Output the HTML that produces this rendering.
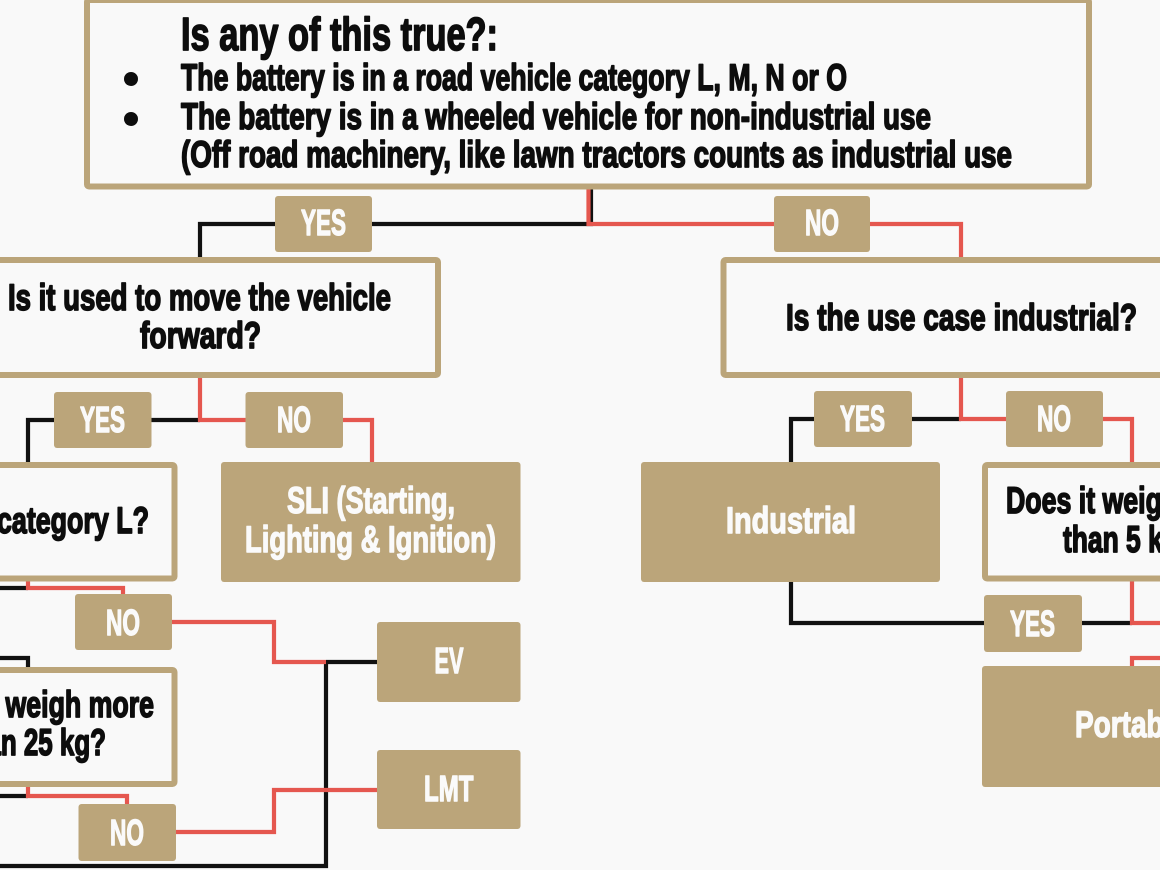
<!DOCTYPE html>
<html><head><meta charset="utf-8"><style>
html,body{margin:0;padding:0;background:#f9f9f9;}
svg{display:block;}
.t{font-family:"Liberation Sans",sans-serif;font-weight:bold;fill:#0d0d0d;stroke:#0d0d0d;stroke-width:1.7;stroke-linejoin:round;}
.w{font-family:"Liberation Sans",sans-serif;font-weight:bold;fill:#fafafa;stroke:#fafafa;stroke-width:1.4;stroke-linejoin:round;}
</style></head><body>
<svg width="1160" height="870" viewBox="0 0 1160 870" xmlns="http://www.w3.org/2000/svg">
<rect x="0" y="0" width="1160" height="870" fill="#f9f9f9"/>
<g fill="none" stroke-width="4.2" stroke-linejoin="miter" stroke-linecap="butt">
<g stroke="#111">
<path d="M591,187 V224 H372"/>
<path d="M275,224 H200 V262"/>
<path d="M200,420 H151"/>
<path d="M54,420 H28 V464"/>
<path d="M0,588 H28"/>
<path d="M326,662 H377"/>
<path d="M326,660 V866 H0"/>
<path d="M0,658 H28 V669"/>
<path d="M0,796 H28"/>
<path d="M961,419 H912"/>
<path d="M814,419 H791 V464"/>
<path d="M791,582 V623 H985"/>
<path d="M1082,623 H1132"/>
</g>
<g stroke="#e5574f">
<path d="M588.5,187 V224 H774"/>
<path d="M870,224 H961 V262"/>
<path d="M200,377 V420 H246"/>
<path d="M343,420 H372 V464"/>
<path d="M28,580 V588 H123 V596"/>
<path d="M172,622 H274 V662 H326"/>
<path d="M28,783 V796 H127 V806"/>
<path d="M176,832 H274 V790 H377"/>
<path d="M961,377 V419 H1006"/>
<path d="M1103,419 H1132 V464"/>
<path d="M1132,580 V623 H1160"/>
<path d="M1160,658 H1132 V668"/>
</g>
</g>
<g fill="#f9f9f9" stroke="#bba57a" stroke-width="6">
<rect x="87" y="0" width="1002" height="186.5" rx="2"/>
<rect x="-20" y="260" width="458" height="115" rx="2"/>
<rect x="723.5" y="260" width="460" height="115" rx="2"/>
<rect x="-20" y="465" width="194.5" height="113.5" rx="2"/>
<rect x="-20" y="670" width="194.5" height="114" rx="2"/>
<rect x="985" y="465" width="200" height="113.5" rx="2"/>
</g>
<g fill="#bba57a">
<rect x="275" y="196" width="97" height="56" rx="3"/>
<rect x="774" y="196" width="96" height="56" rx="3"/>
<rect x="54" y="392" width="97.5" height="56" rx="3"/>
<rect x="245.5" y="392" width="97.5" height="56" rx="3"/>
<rect x="814" y="391" width="98" height="56" rx="3"/>
<rect x="1006" y="391" width="97" height="56" rx="3"/>
<rect x="75" y="594" width="97" height="56" rx="3"/>
<rect x="78.5" y="804" width="97.5" height="57" rx="3"/>
<rect x="984" y="595" width="98" height="57" rx="3"/>
<rect x="221" y="462" width="299.5" height="120" rx="3"/>
<rect x="641" y="462" width="299" height="120" rx="3"/>
<rect x="377" y="622" width="143.5" height="80" rx="3"/>
<rect x="377" y="750" width="143.5" height="79" rx="3"/>
<rect x="982" y="666" width="300" height="121" rx="3"/>
</g>
<text class="t" x="181" y="50" font-size="46" textLength="317" lengthAdjust="spacingAndGlyphs">Is any of this true?:</text>
<circle cx="131" cy="79" r="7" fill="#0d0d0d"/>
<circle cx="131" cy="119" r="7" fill="#0d0d0d"/>
<text class="t" x="181" y="90" font-size="37" textLength="666" lengthAdjust="spacingAndGlyphs">The battery is in a road vehicle category L, M, N or O</text>
<text class="t" x="181" y="129" font-size="37" textLength="750" lengthAdjust="spacingAndGlyphs">The battery is in a wheeled vehicle for non-industrial use</text>
<text class="t" x="181" y="167" font-size="37" textLength="831" lengthAdjust="spacingAndGlyphs">(Off road machinery, like lawn tractors counts as industrial use</text>
<text class="t" x="8" y="310" font-size="37" textLength="383" lengthAdjust="spacingAndGlyphs">Is it used to move the vehicle</text>
<text class="t" x="140" y="348" font-size="37" textLength="121" lengthAdjust="spacingAndGlyphs">forward?</text>
<text class="t" x="786" y="330" font-size="37" textLength="351" lengthAdjust="spacingAndGlyphs">Is the use case industrial?</text>
<text class="t" x="-3" y="533" font-size="37" textLength="152" lengthAdjust="spacingAndGlyphs">category L?</text>
<text class="t" x="-91" y="717" font-size="37" textLength="245" lengthAdjust="spacingAndGlyphs">Does it weigh more</text>
<text class="t" x="-38" y="755" font-size="37" textLength="144" lengthAdjust="spacingAndGlyphs">than 25 kg?</text>
<text class="t" x="1006" y="513" font-size="37" textLength="245" lengthAdjust="spacingAndGlyphs">Does it weigh more</text>
<text class="t" x="1063" y="552" font-size="37" textLength="132" lengthAdjust="spacingAndGlyphs">than 5 kg?</text>
<text class="w" x="301" y="235" font-size="36" textLength="45" lengthAdjust="spacingAndGlyphs">YES</text>
<text class="w" x="805" y="235" font-size="36" textLength="34" lengthAdjust="spacingAndGlyphs">NO</text>
<text class="w" x="80" y="432" font-size="36" textLength="45" lengthAdjust="spacingAndGlyphs">YES</text>
<text class="w" x="277" y="432" font-size="36" textLength="34" lengthAdjust="spacingAndGlyphs">NO</text>
<text class="w" x="840" y="431" font-size="36" textLength="45" lengthAdjust="spacingAndGlyphs">YES</text>
<text class="w" x="1037" y="431" font-size="36" textLength="34" lengthAdjust="spacingAndGlyphs">NO</text>
<text class="w" x="106" y="635" font-size="36" textLength="34" lengthAdjust="spacingAndGlyphs">NO</text>
<text class="w" x="110" y="845" font-size="36" textLength="34" lengthAdjust="spacingAndGlyphs">NO</text>
<text class="w" x="1010" y="636" font-size="36" textLength="45" lengthAdjust="spacingAndGlyphs">YES</text>
<text class="w" x="287" y="513" font-size="37" textLength="168" lengthAdjust="spacingAndGlyphs">SLI (Starting,</text>
<text class="w" x="245" y="552" font-size="37" textLength="251" lengthAdjust="spacingAndGlyphs">Lighting &amp; Ignition)</text>
<text class="w" x="726" y="533" font-size="37" textLength="130" lengthAdjust="spacingAndGlyphs">Industrial</text>
<text class="w" x="1075" y="737" font-size="37" textLength="112" lengthAdjust="spacingAndGlyphs">Portable</text>
<text class="w" x="434.5" y="673" font-size="36" textLength="29" lengthAdjust="spacingAndGlyphs">EV</text>
<text class="w" x="424" y="801" font-size="36" textLength="49.5" lengthAdjust="spacingAndGlyphs">LMT</text>
</svg>
</body></html>
